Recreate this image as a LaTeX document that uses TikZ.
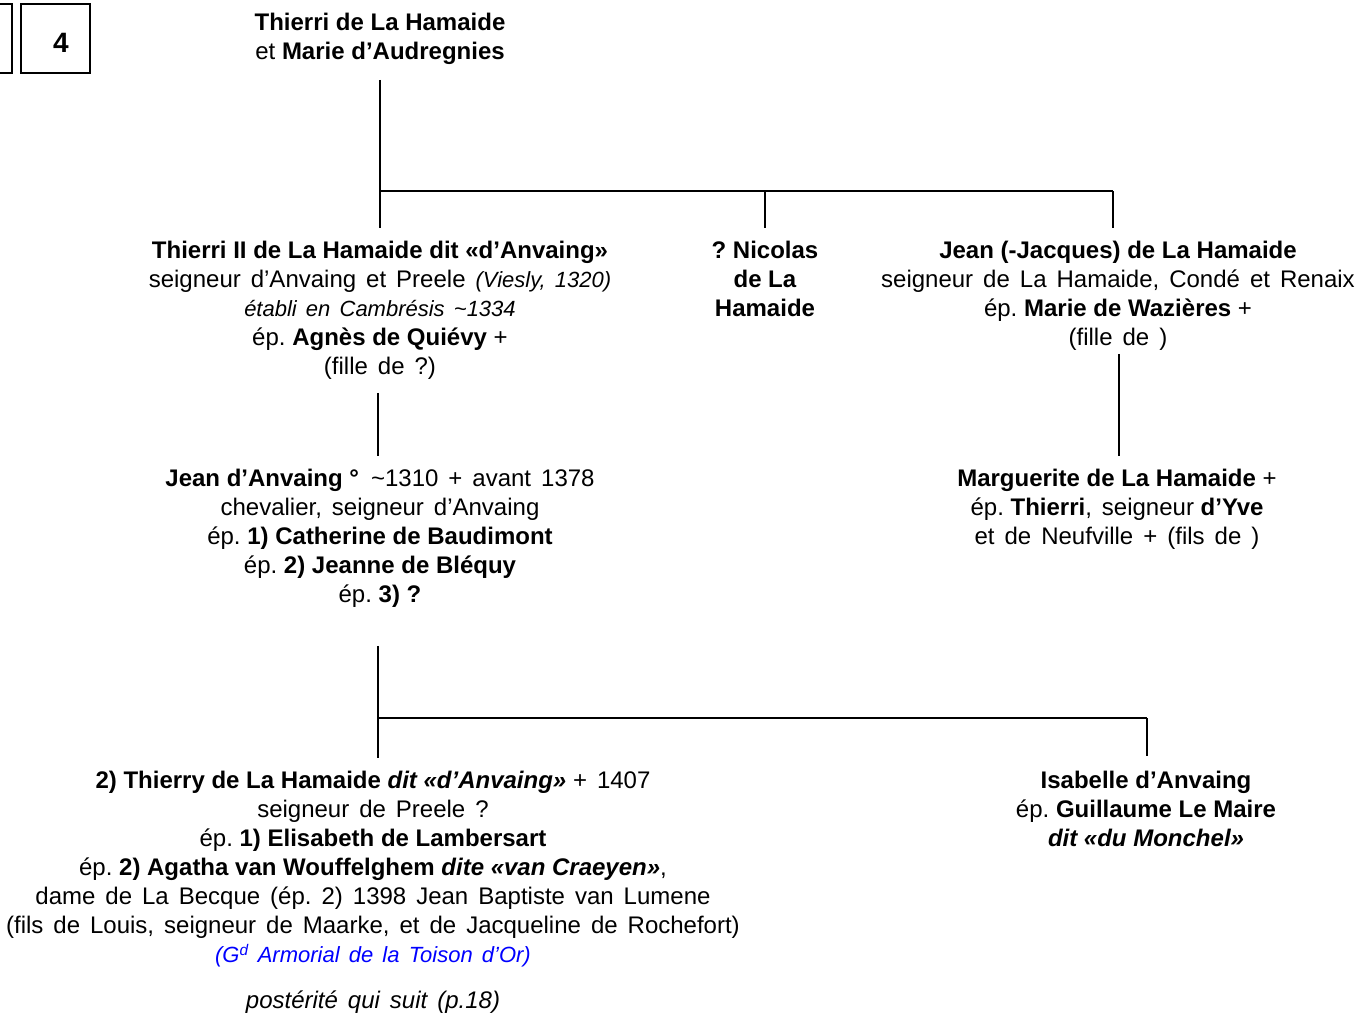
\documentclass[tikz,border=0pt]{standalone}
\usepackage{fontspec}
\setmainfont{Liberation Sans}[WordSpace=1.5, BoldFeatures={WordSpace=1}, BoldItalicFeatures={WordSpace=1}]
\definecolor{refblue}{RGB}{0,0,255}
\newcommand{\smit}[1]{{\fontsize{22}{29}\selectfont\itshape #1}}
\newcommand{\nsp}{\hspace{6.7pt}}
\begin{document}
\frenchspacing
\begin{tikzpicture}[x=1pt,y=-1pt,
  person/.style={align=center, inner sep=0pt, anchor=north, font=\fontsize{24}{29}\selectfont},
  link/.style={line width=2pt}]
\useasboundingbox (0,0) rectangle (1360,1013);
% page-number boxes
\draw[line width=1.2pt] (0,4) -- (12,4) -- (12,73) -- (0,73);
\node[draw, line width=1.2pt, minimum width=69pt, minimum height=69pt, inner sep=0pt] (num) at (55.5,38.5) {};
\node[font=\fontsize{28}{30}\selectfont\bfseries, inner sep=0pt] (numtext) at (61,43) {4};
% persons
\node[person] (top) at (380,13) {\textbf{Thierri de La Hamaide}\\et\nsp\textbf{Marie d’Audregnies}};
\node[person] (thierri) at (380,241) {\textbf{Thierri II de La Hamaide dit «d’Anvaing»}\\
  seigneur d’Anvaing et Preele \smit{(Viesly, 1320)}\\
  \smit{établi en Cambrésis \textasciitilde1334}\\
  ép.\nsp\textbf{Agnès de Quiévy}\nsp+\\
  (fille de ?)};
\node[person] (nicolas) at (765,241) {\textbf{? Nicolas}\\\textbf{de La}\\\textbf{Hamaide}};
\node[person] (jeanjacques) at (1118,241) {\textbf{Jean (-Jacques) de La Hamaide}\\
  seigneur de La Hamaide, Condé et Renaix\\
  ép.\nsp\textbf{Marie de Wazières}\nsp+\\
  (fille de )};
\node[person] (marguerite) at (1117,469) {\textbf{Marguerite de La Hamaide}\nsp+\\
  ép.\nsp\textbf{Thierri}, seigneur\nsp\textbf{d’Yve}\\
  et de Neufville + (fils de )};
\node[person] (jeanA) at (380,469) {\textbf{Jean d’Anvaing °}\hspace{12pt}\textasciitilde1310 + avant 1378\\
  chevalier, seigneur d’Anvaing\\
  ép.\nsp\textbf{1) Catherine de Baudimont}\\
  ép.\nsp\textbf{2) Jeanne de Bléquy}\\
  ép.\nsp\textbf{3) ?}};
\node[person] (thierry) at (373,771) {\textbf{2) Thierry de La Hamaide \textit{dit «d'Anvaing»}}\nsp+ 1407\\
  seigneur de Preele ?\\
  ép.\nsp\textbf{1) Elisabeth de Lambersart}\\
  ép.\nsp\textbf{2) Agatha van Wouffelghem \textit{dite «van Craeyen»}},\\
  dame de La Becque (ép. 2) 1398 Jean Baptiste van Lumene\\
  (fils de Louis, seigneur de Maarke, et de Jacqueline de Rochefort)\\
  \textcolor{refblue}{\smit{(G\textsuperscript{d} Armorial de la Toison d'Or)}}};
\node[person, font=\fontsize{24}{29}\selectfont\itshape] (post) at (373,991) {postérité qui suit (p.18)};
\node[person] (isabelle) at (1146,771) {\textbf{Isabelle d’Anvaing}\\
  ép.\nsp\textbf{Guillaume Le Maire}\\
  \textbf{\textit{dit «du Monchel»}}};
% junctions
\coordinate (bar1) at (380,191);
\coordinate (bar1m) at (765,191);
\coordinate (bar1r) at (1113,191);
\coordinate (bar2) at (378,718);
\coordinate (bar2r) at (1147,718);
% connectors
\draw[link, shorten <=15pt] (top.south) -- (bar1);
\draw[link] (bar1) -- (bar1r);
\draw[link, shorten >=13pt] (bar1) -- (thierri.north);
\draw[link, shorten >=13pt] (bar1m) -- (nicolas.north);
\draw[link, shorten >=13pt] (bar1r) -- (bar1r |- jeanjacques.north);
\draw[link, shorten <=3pt, shorten >=13pt] (jeanjacques.south -| 1119,0) -- (marguerite.north -| 1119,0);
\draw[link, shorten <=13pt, shorten >=13pt] (thierri.south -| 378,0) -- (jeanA.north -| 378,0);
\draw[link, shorten <=38pt] (jeanA.south -| bar2) -- (bar2);
\draw[link] (bar2) -- (bar2r);
\draw[link, shorten >=13pt] (bar2) -- (bar2 |- thierry.north);
\draw[link, shorten >=15pt] (bar2r) -- (isabelle.north -| bar2r);
\end{tikzpicture}
\end{document}
